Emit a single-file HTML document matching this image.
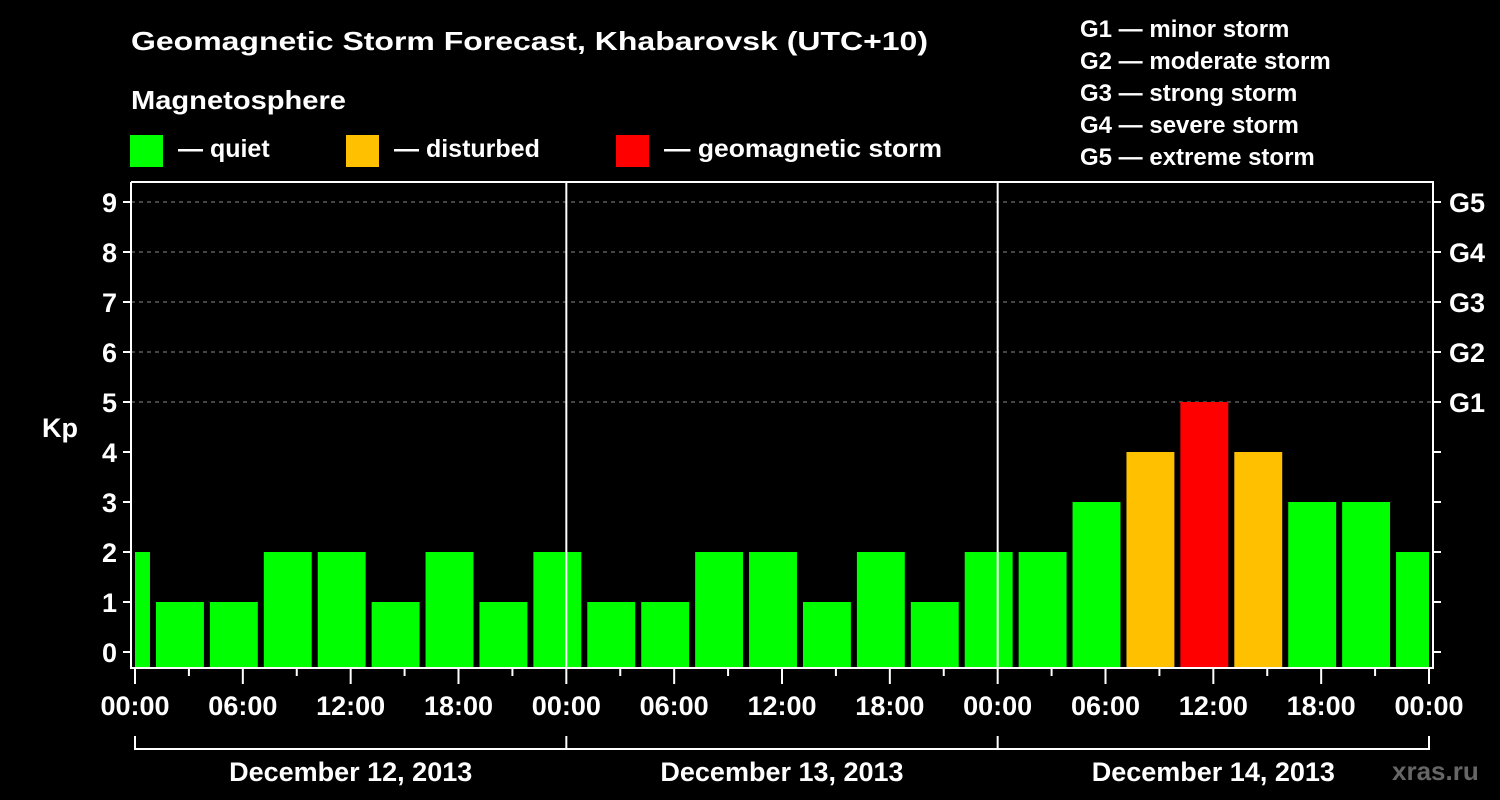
<!DOCTYPE html>
<html><head><meta charset="utf-8"><style>
html,body{margin:0;padding:0;background:#000;width:1500px;height:800px;overflow:hidden}
svg text{font-family:"Liberation Sans",Arial,sans-serif;font-weight:bold;fill:#fff}
</style></head><body>
<svg id="chart" width="1500" height="800" viewBox="0 0 1500 800" xmlns="http://www.w3.org/2000/svg">
<rect width="1500" height="800" fill="#000"/>
<text x="131" y="50" font-size="26" textLength="797" lengthAdjust="spacingAndGlyphs">Geomagnetic Storm Forecast, Khabarovsk (UTC+10)</text>
<text x="131" y="109" font-size="26" textLength="215" lengthAdjust="spacingAndGlyphs">Magnetosphere</text>
<g><rect x="130" y="135" width="33" height="32" fill="#00ff00"/><text x="178" y="157" font-size="25">— quiet</text></g>
<g><rect x="346" y="135" width="33" height="32" fill="#ffc000"/><text x="394" y="157" font-size="25">— disturbed</text></g>
<g><rect x="616" y="135" width="33" height="32" fill="#ff0000"/><text x="664" y="157" font-size="25" textLength="278" lengthAdjust="spacingAndGlyphs">— geomagnetic storm</text></g>
<g font-size="24">
<text x="1080" y="37">G1 — minor storm</text>
<text x="1080" y="69">G2 — moderate storm</text>
<text x="1080" y="101">G3 — strong storm</text>
<text x="1080" y="133">G4 — severe storm</text>
<text x="1080" y="165">G5 — extreme storm</text>
</g>
<g id="grid"></g><g id="bars"></g><g id="axes"></g>
<text x="42" y="437" font-size="27">Kp</text>
<text x="1392" y="780" font-size="26" fill="#666" style="fill:#666">xras.ru</text>
</svg>
<script>
const kpValues=[2,1,1,2,2,1,2,1,2,1,1,2,2,1,2,1,2,2,3,4,5,4,3,3,2];
const barStartHours=[-2,1,4,7,10,13,16,19,22,25,28,31,34,37,40,43,46,49,52,55,58,61,64,67,70];
const yTicks=[0,1,2,3,4,5,6,7,8,9];
const gLabels=["G1","G2","G3","G4","G5"];
const hourLabels=["00:00","06:00","12:00","18:00"];
const dayLabels=["December 12, 2013","December 13, 2013","December 14, 2013"];
const NS="http://www.w3.org/2000/svg";
const X0=135,PXH=(1429-135)/72,Y0=652,PXK=50,TOP=182,BOT=668,L=131,R=1433;
const xs=h=>X0+h*PXH, ys=k=>Y0-k*PXK;
function mk(tag,attrs,parent,txt){const e=document.createElementNS(NS,tag);for(const k in attrs)e.setAttribute(k,attrs[k]);if(txt!=null)e.textContent=txt;parent.appendChild(e);return e;}
const grid=document.getElementById('grid'),bars=document.getElementById('bars'),axes=document.getElementById('axes');
yTicks.forEach(k=>{if(k>=5){const g=mk('line',{x1:L,x2:R,y1:ys(k),y2:ys(k),stroke:'#888','stroke-dasharray':'4,4','stroke-width':1},grid);

}});
kpValues.forEach((v,i)=>{const s=Math.max(0,barStartHours[i]),e=Math.min(72,barStartHours[i]+3);
let x1=xs(s)+(barStartHours[i]<0?0:3),x2=xs(e)-(barStartHours[i]+3>72?0:3);
const col=v>=5?'#ff0000':(v>=4?'#ffc000':'#00ff00');
const r=mk('rect',{x:x1,y:ys(v),width:x2-x1,height:BOT-ys(v),fill:col},bars);

});
// frame
const fr=mk('path',{d:`M${L},${TOP}V${BOT}H${R}V${TOP}H${L}`,fill:'none',stroke:'#fff','stroke-width':2},axes);


[24,48].forEach(h=>{const d=mk('line',{x1:xs(h),x2:xs(h),y1:TOP,y2:BOT,stroke:'#fff','stroke-width':2},axes);

});
yTicks.forEach(k=>{mk('line',{x1:L-8,x2:L,y1:ys(k),y2:ys(k),stroke:'#fff','stroke-width':2},axes);
mk('line',{x1:R,x2:R+8,y1:ys(k),y2:ys(k),stroke:'#fff','stroke-width':2},axes);
const t=mk('text',{x:117,y:ys(k)+10,'font-size':27,'text-anchor':'end'},axes,String(k));


if(k>=5){const g=mk('text',{x:1449,y:ys(k)+10,'font-size':27},axes,gLabels[k-5]);

}});
for(let h=0;h<=72;h+=3){const major=h%6===0;mk('line',{x1:xs(h),x2:xs(h),y1:BOT,y2:BOT+(major?16:8),stroke:'#fff','stroke-width':2},axes);
if(major){const t=mk('text',{x:xs(h),y:715,'font-size':27,'text-anchor':'middle'},axes,hourLabels[(h/6)%4]);

}}
mk('path',{d:`M${xs(0)},736V749H${xs(72)}V736M${xs(24)},736V749M${xs(48)},736V749`,fill:'none',stroke:'#fff','stroke-width':2},axes);
dayLabels.forEach((d,i)=>{const t=mk('text',{x:xs(i*24+12),y:781,'font-size':27,'text-anchor':'middle'},axes,d);

});
</script>
</body></html>
